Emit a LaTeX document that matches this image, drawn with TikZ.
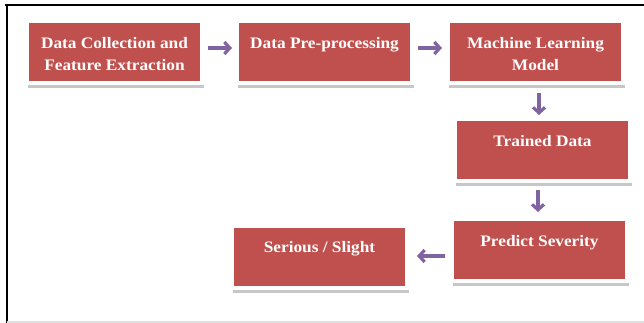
\documentclass[tikz,border=0pt]{standalone}
\usepackage{fontspec}
\setmainfont{Liberation Serif}[FakeStretch=1.08]
\usetikzlibrary{arrows.meta,shadows}
\definecolor{boxred}{HTML}{C0504D}
\definecolor{arrpurple}{HTML}{8064A2}
\tikzset{
  box/.style={rectangle, fill=boxred, draw=white, line width=4pt, outer sep=0pt,
    minimum width=175pt, minimum height=62pt, inner sep=0pt,
    drop shadow={shadow xshift=1.5pt, shadow yshift=-5pt, shadow scale=1.01, opacity=.22, fill=black}},
  lbl/.style={anchor=north, inner sep=0pt, align=center, text=white,
    font=\fontsize{16}{22}\selectfont\bfseries},
  arr/.style={draw=arrpurple, line width=3.2pt, -{Straight Barb[length=5.5pt,width=12pt]}}
}
\begin{document}
\begin{tikzpicture}[x=1pt,y=-1pt]
\useasboundingbox (0,0) rectangle (644,323);
% frame
\draw[black, line width=2pt] (5,5) -- (644,5);
\draw[black, line width=2pt] (7,5) -- (7,323);
\draw[black!12, line width=1.5pt] (7,322) -- (644,322);
% boxes
\node[box] (b1) at (114.5,52) {};
\node[box] (b2) at (324.5,52) {};
\node[box] (b3) at (535.5,52) {};
\node[box] (b4) at (542.5,150) {};
\node[box] (b5) at (539.5,250) {};
\node[box] (b6) at (319.5,256.5) {};
% labels
\node[lbl] (t1) at ([yshift=-16pt]b1.north) {Data Collection and\\Feature Extraction};
\node[lbl] (t2) at ([yshift=-16pt]b2.north) {Data Pre-processing};
\node[lbl] (t3) at ([yshift=-16pt]b3.north) {Machine Learning\\Model};
\node[lbl] (t4) at ([yshift=-16pt]b4.north) {Trained Data};
\node[lbl] (t5) at ([yshift=-16pt]b5.north) {Predict Severity};
\node[lbl] (t6) at ([yshift=-16pt]b6.north) {Serious / Slight};
% arrows
\draw[arr] ([shift={(6pt,4pt)}]b1.east) -- ([shift={(-5pt,4pt)}]b2.west);
\draw[arr] ([shift={(6pt,4pt)}]b2.east) -- ([shift={(-6pt,4pt)}]b3.west);
\draw[arr] ([shift={(3.5pt,-10pt)}]b3.south) -- ([shift={(-3.5pt,4pt)}]b4.north);
\draw[arr] ([shift={(-4.5pt,-9pt)}]b4.south) -- ([shift={(-1.5pt,7pt)}]b5.north);
\draw[arr] ([shift={(-7pt,-6pt)}]b5.west) -- ([shift={(10pt,0.5pt)}]b6.east);
\end{tikzpicture}
\end{document}
